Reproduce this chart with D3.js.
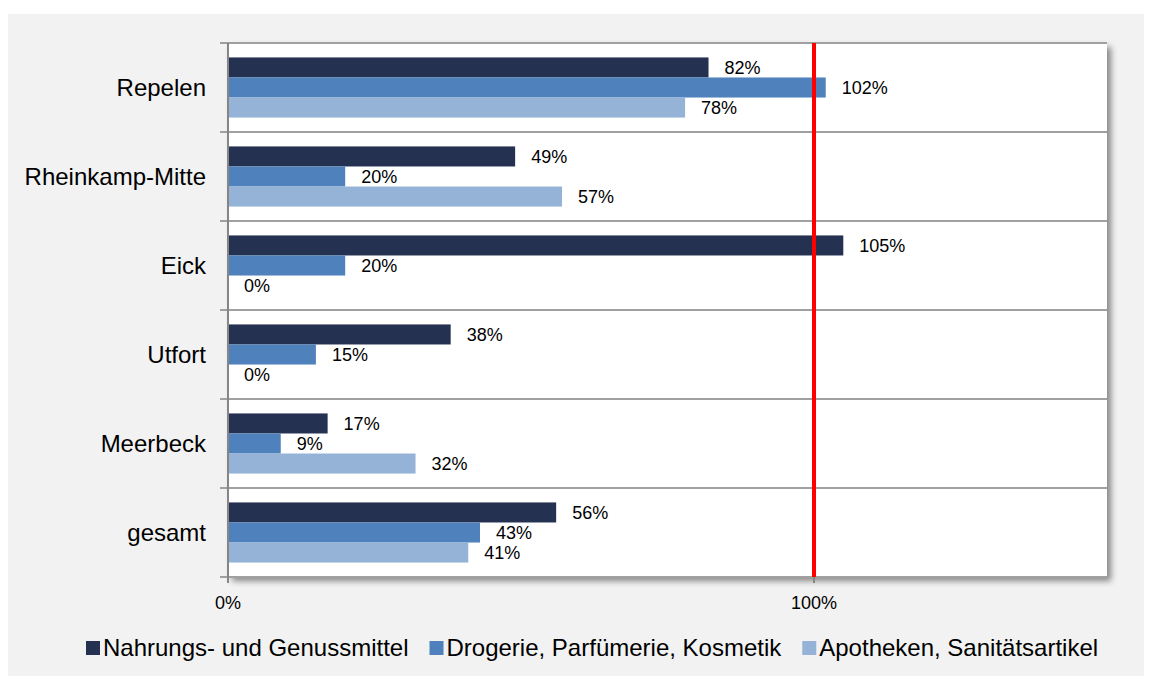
<!DOCTYPE html>
<html>
<head>
<meta charset="utf-8">
<script src="https://cdn.jsdelivr.net/npm/d3@7"></script>
<style>
  body { margin:0; background:#fff; }
  svg { display:block; font-family:"Liberation Sans", Arial, sans-serif; }
</style>
</head>
<body>
<div id="chart"></div>
<script>
// data
var categories = ["Repelen","Rheinkamp-Mitte","Eick","Utfort","Meerbeck","gesamt"]
var seriesNames = ["Nahrungs- und Genussmittel","Drogerie, Parfümerie, Kosmetik","Apotheken, Sanitätsartikel"]
var nahrung  = [82,49,105,38,17,56]
var drogerie = [102,20,20,15,9,43]
var apotheke = [78,57,0,0,32,41]
var xTicks = [0,100]
var refValue = 100

var colours = ["#253150","#4f81bd","#95b3d7"]

var W = 1152, H = 682
var plot = {left:228, top:43, right:1107, bottom:577}

var svg = d3.select("#chart").append("svg").attr("width",W).attr("height",H)

var defs = svg.append("defs")
var f = defs.append("filter").attr("id","shadow").attr("x","-5%").attr("y","-5%").attr("width","115%").attr("height","115%")
f.append("feDropShadow").attr("dx",4).attr("dy",4).attr("stdDeviation",3).attr("flood-color","#000").attr("flood-opacity",0.45)

// outer panel
svg.append("rect").attr("x",8).attr("y",14).attr("width",1136).attr("height",662).attr("fill","#f2f2f2")

// plot area with shadow
svg.append("rect").attr("x",plot.left).attr("y",plot.top)
  .attr("width",plot.right-plot.left).attr("height",plot.bottom-plot.top)
  .attr("fill","#fff").attr("filter","url(#shadow)")

var x = d3.scaleLinear().domain([0,150]).range([plot.left,plot.right])
var y = d3.scaleBand().domain(categories).range([plot.top,plot.bottom])
var ys = d3.scaleBand().domain(d3.range(3)).range([0,y.bandwidth()]).paddingInner(0).paddingOuter(0.72)

var rows = categories.map((c,i)=>({cat:c, vals:[nahrung[i],drogerie[i],apotheke[i]]}))

// gridlines at category boundaries
var bounds = categories.map(c=>y(c)).concat([plot.bottom])
svg.selectAll(".grid").data(bounds).enter().append("line")
  .attr("x1",plot.left-8).attr("x2",plot.right)
  .attr("y1",d=>d).attr("y2",d=>d)
  .attr("stroke","#a0a0a0").attr("stroke-width",2)

// bars
var groups = svg.selectAll(".grp").data(rows).enter().append("g")
  .attr("transform",d=>"translate(0,"+y(d.cat)+")")

groups.selectAll("rect").data(d=>d.vals).enter().append("rect")
  .attr("x",x(0)).attr("y",(d,i)=>ys(i))
  .attr("width",d=>x(d)-x(0)).attr("height",ys.bandwidth())
  .attr("fill",(d,i)=>colours[i])

groups.selectAll("text").data(d=>d.vals).enter().append("text")
  .attr("x",d=>x(d)+16).attr("y",(d,i)=>ys(i)+ys.bandwidth()/2)
  .attr("dy","0.35em").attr("font-size",18).attr("fill","#000")
  .text(d=>d+"%")

// y axis line
svg.append("line").attr("x1",plot.left).attr("x2",plot.left)
  .attr("y1",plot.top).attr("y2",plot.bottom+6)
  .attr("stroke","#868686").attr("stroke-width",2)

// category labels
svg.selectAll(".cat").data(categories).enter().append("text")
  .attr("x",206).attr("y",d=>y(d)+y.bandwidth()/2).attr("dy","0.35em")
  .attr("text-anchor","end").attr("font-size",24).attr("fill","#000")
  .text(d=>d)

// x ticks
svg.selectAll(".xt").data(xTicks).enter().append("line")
  .attr("x1",d=>x(d)).attr("x2",d=>x(d))
  .attr("y1",plot.bottom).attr("y2",plot.bottom+6)
  .attr("stroke","#868686").attr("stroke-width",2)
svg.selectAll(".xl").data(xTicks).enter().append("text")
  .attr("x",d=>x(d)).attr("y",603).attr("dy","0.35em")
  .attr("text-anchor","middle").attr("font-size",18).attr("fill","#000")
  .text(d=>d+"%")

// red reference line
svg.append("line").attr("x1",x(refValue)).attr("x2",x(refValue))
  .attr("y1",plot.top).attr("y2",plot.bottom)
  .attr("stroke","#ff0000").attr("stroke-width",4)

// legend
var lx = 86
seriesNames.forEach(function(name,i){
  var g = svg.append("g").attr("transform","translate("+lx+",648)")
  g.append("rect").attr("x",0).attr("y",-7).attr("width",14).attr("height",14).attr("fill",colours[i])
  var t = g.append("text").attr("x",17).attr("dy","0.35em").attr("font-size",24).attr("fill","#000").text(name)
  lx += 17 + t.node().getComputedTextLength() + 21
})
</script>
</body>
</html>
